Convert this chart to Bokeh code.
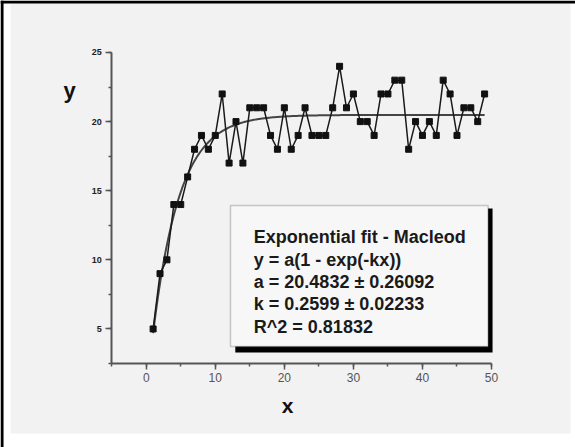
import numpy as np
from bokeh.plotting import figure
from bokeh.models import BoxAnnotation, Label, SingleIntervalTicker, Range1d, ColumnDataSource
from bokeh.embed import file_html
from bokeh.resources import INLINE

# ---- data ----
x_vals = list(range(1, 50))
y_vals = [5, 9, 10, 14, 14, 16, 18, 19, 18, 19, 22, 17, 20, 17, 21, 21, 21, 19, 18, 21,
          18, 19, 21, 19, 19, 19, 21, 24, 21, 22, 20, 20, 19, 22, 22, 23, 23, 18, 20, 19,
          20, 19, 23, 22, 19, 21, 21, 20, 22]
fit_a = 20.4832
fit_a_err = 0.26092
fit_k = 0.2599
fit_k_err = 0.02233
fit_r2 = 0.81832
box_lines = [
    "Exponential fit - Macleod",
    "y = a(1 - exp(-kx))",
    f"a = {fit_a} \u00b1 {fit_a_err}",
    f"k = {fit_k} \u00b1 {fit_k_err}",
    f"R^2 = {fit_r2}",
]
x_axis_bounds = (-5, 50)
y_axis_bounds = (2.5, 25)

fit_x = np.linspace(min(x_vals), max(x_vals), 300)
fit_y = fit_a * (1 - np.exp(-fit_k * fit_x))

BG = "#f2f2f2"
AXC = "#555555"

# frame covers the whole canvas; axes are drawn at fixed locations inside it
p = figure(width=575, height=447, x_range=Range1d(-21.1, 62.16), y_range=Range1d(-3.578, 28.762),
           output_backend="svg", toolbar_location=None,
           min_border_left=0, min_border_right=0, min_border_top=0, min_border_bottom=0)
p.border_fill_color = "white"
p.background_fill_color = "white"
p.outline_line_color = None
p.grid.visible = False

# gray page panel and black left/top frame lines
p.add_layout(BoxAnnotation(left=-19.65, right=61.44, top=28.545, bottom=-2.565,
                           fill_color=BG, fill_alpha=1, line_color=None, level="underlay"))
p.add_layout(BoxAnnotation(right=-20.66, fill_color="black", fill_alpha=1, line_color=None,
                           level="underlay"))
p.add_layout(BoxAnnotation(bottom=28.545, fill_color="black", fill_alpha=1, line_color=None,
                           level="underlay"))

# axes
xa = p.xaxis[0]
ya = p.yaxis[0]
xa.fixed_location = y_axis_bounds[0]
ya.fixed_location = x_axis_bounds[0]
xa.bounds = x_axis_bounds
ya.bounds = y_axis_bounds
xa.ticker = SingleIntervalTicker(interval=10, num_minor_ticks=2)
ya.ticker = SingleIntervalTicker(interval=5, num_minor_ticks=2)
for ax in (xa, ya):
    ax.axis_line_color = AXC
    ax.axis_line_width = 2
    ax.major_tick_line_color = AXC
    ax.minor_tick_line_color = AXC
    ax.major_tick_line_width = 1.5
    ax.minor_tick_line_width = 1.5
    ax.major_tick_in = 0
    ax.minor_tick_in = 0
    ax.major_tick_out = 6
    ax.minor_tick_out = 3
    ax.major_label_text_font = "Liberation Sans"
xa.major_label_text_font_size = "12px"
xa.major_label_text_color = "#555555"
xa.major_label_standoff = 4
ya.major_label_text_font_size = "9px"
ya.major_label_text_font_style = "bold"
ya.major_label_text_color = "#222222"
ya.major_label_standoff = 4

# fit curve and data
p.line(fit_x, fit_y, line_color="#444444", line_width=2)
src = ColumnDataSource(dict(x=x_vals, y=y_vals))
p.line("x", "y", source=src, line_color="#1a1a1a", line_width=1.5)
p.scatter("x", "y", source=src, marker="square", size=6, fill_color="#111111", line_color="#111111")

# axis titles
p.add_layout(Label(x=-11.1, y=22.25, text="y", text_font="Liberation Sans", text_font_style="bold",
                   text_font_size="22px", text_align="center", text_baseline="alphabetic",
                   text_color="#111111"))
p.add_layout(Label(x=20.46, y=-0.54, text="x", text_font="Liberation Sans", text_font_style="bold",
                   text_font_size="21px", text_align="center", text_baseline="alphabetic",
                   text_color="#111111"))

# fit info box with shadow
p.add_layout(BoxAnnotation(left=12.9, right=50.15, top=13.71, bottom=3.29,
                           fill_color="black", fill_alpha=1, line_color=None))
p.add_layout(BoxAnnotation(left=12.2, right=49.5, top=13.93, bottom=3.73,
                           fill_color="#f7f7f7", fill_alpha=1, line_color="#555555", line_width=1.5))
ys = [11.64, 10.0, 8.38, 6.77, 5.13]
for t, yy in zip(box_lines, ys):
    p.add_layout(Label(x=15.58, y=yy, text=t, text_font="Liberation Sans", text_font_style="bold",
                       text_font_size="18px", text_baseline="alphabetic", text_color="#1a1a1a"))

open("out.html", "w").write(file_html(p, INLINE))
